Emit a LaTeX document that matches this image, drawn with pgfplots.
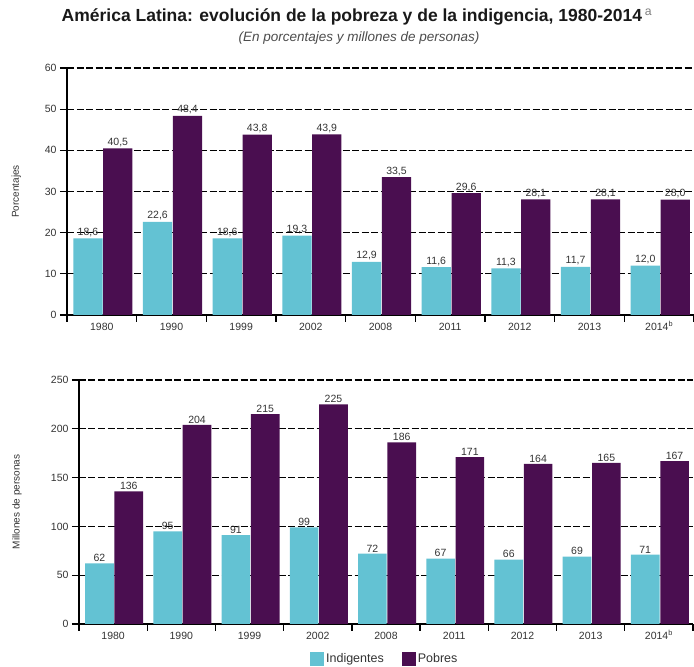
\documentclass[border=0pt]{standalone}
\usepackage{fontspec}
\setmainfont{Liberation Sans}
\usepackage{pgfplots}
\pgfplotsset{compat=1.18}
\definecolor{cyanb}{HTML}{63C2D3}
\definecolor{purp}{HTML}{4A0E50}
\definecolor{lbl}{HTML}{333333}
\pgfplotsset{
  mybars/.style={
    scale only axis,
    ybar, bar width=0.42,
    xmin=-0.5, xmax=8.5, ymin=0,
    axis x line*=bottom, axis y line*=left,
    axis line style={line width=1.3pt, black, -},
    xtick={-0.5,0.5,...,8.5}, xticklabels={},
    extra x ticks={0,...,8},
    extra x tick labels={1980,1990,1999,2002,2008,2011,2012,2013,2014\textsuperscript{b}},
    extra x tick style={major tick length=0pt, grid=none},
    tick align=outside, major tick length=7pt,
    tick style={line width=1.3pt, black},
    ymajorgrids,
    grid style={black, line width=1.1pt, dash pattern=on 7pt off 2.5pt},
    tick label style={font=\fontsize{10.5}{12}\selectfont, text=lbl},
    xticklabel style={yshift=-4pt, text height=8pt, text depth=1pt},
    /pgf/number format/assume math mode=true,
    nodes near coords,
    nodes near coords style={font=\fontsize{10.5}{12}\selectfont, text=lbl, inner sep=1.5pt},
    ylabel style={font=\fontsize{10}{12}\selectfont, text=lbl, anchor=center},
  }
}
\begin{document}
\begin{tikzpicture}[x=1pt,y=1pt]
\path[use as bounding box] (0,0) rectangle (694,667);
\node[font=\bfseries\fontsize{17.5}{20}\selectfont, text=black!90] at (357,650)
  {América Latina: evolución de la pobreza y de la indigencia, 1980-2014\,\textsuperscript{\normalfont\color{gray}a}};
\node[font=\itshape\fontsize{13.5}{16}\selectfont, text=black!70] at (359,629)
  {(En porcentajes y millones de personas)};

\begin{axis}[mybars, at={(67pt,352pt)}, anchor=south west, width=627pt, height=247pt,
  ymax=60, ytick={0,10,...,60},
  ylabel={Porcentajes},
  ylabel style={at={(axis description cs:-0.081,0.5)}},
  nodes near coords={\pgfmathprintnumber[fixed, fixed zerofill, precision=1, use comma]{\pgfplotspointmeta}},
]
\addplot[fill=cyanb, draw=none, bar shift=-0.2] coordinates {
 (0,18.6) (1,22.6) (2,18.6) (3,19.3) (4,12.9) (5,11.6) (6,11.3) (7,11.7) (8,12.0)};
\addplot[fill=purp, draw=none, bar shift=0.23] coordinates {
 (0,40.5) (1,48.4) (2,43.8) (3,43.9) (4,33.5) (5,29.6) (6,28.1) (7,28.1) (8,28.0)};
\end{axis}

\begin{axis}[mybars, at={(79pt,43pt)}, anchor=south west, width=614pt, height=244pt,
  ymax=250, ytick={0,50,...,250},
  ylabel={Millones de personas},
  ylabel style={at={(axis description cs:-0.101,0.5)}},
  legend style={at={(0.498,-0.143)}, anchor=center, draw=none, legend columns=2,
    font=\fontsize{12.5}{14}\selectfont, text=lbl, inner sep=1pt,
    /tikz/every even column/.append style={column sep=16pt}},
  legend image code/.code={\fill[#1] (0pt,-7pt) rectangle (14pt,7pt);},
]
\addplot[fill=cyanb, draw=none, bar shift=-0.2] coordinates {
 (0,62) (1,95) (2,91) (3,99) (4,72) (5,67) (6,66) (7,69) (8,71)};
\addlegendentry{Indigentes}
\addplot[fill=purp, draw=none, bar shift=0.23] coordinates {
 (0,136) (1,204) (2,215) (3,225) (4,186) (5,171) (6,164) (7,165) (8,167)};
\addlegendentry{Pobres}
\end{axis}
\end{tikzpicture}
\end{document}
